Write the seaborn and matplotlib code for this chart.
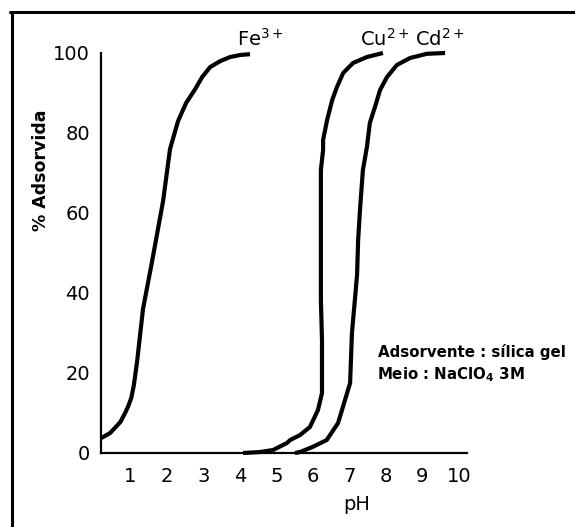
import matplotlib
matplotlib.use("Agg")
import matplotlib.pyplot as plt
from matplotlib.lines import Line2D
import seaborn as sns
import pandas as pd

# ---- data ----
fe_ph = [0.21, 0.45, 0.73, 0.86, 0.95, 1.03, 1.10, 1.19, 1.35, 1.60, 1.90, 2.09, 2.31,
         2.53, 2.78, 2.97, 3.19, 3.47, 3.74, 4.01, 4.28]
fe_ads = [3.75, 5.0, 7.75, 10.0, 11.8, 13.8, 17.0, 23.0, 36.0, 48.0, 63.0, 76.0, 83.0,
          87.5, 91.0, 94.0, 96.5, 98.0, 99.0, 99.5, 99.7]

cu_ph = [4.09, 4.56, 4.91, 5.29, 5.38, 5.65, 5.92, 6.14, 6.25, 6.25, 6.22, 6.22,
         6.22, 6.22, 6.28, 6.28, 6.39, 6.53, 6.66, 6.83, 7.10, 7.48, 7.92]
cu_ads = [0.0, 0.25, 0.75, 2.5, 3.25, 4.5, 6.5, 10.75, 15.0, 28.25, 38.25, 50.75,
          63.25, 70.75, 75.75, 78.25, 83.25, 88.25, 91.5, 95.0, 97.5, 99.0, 100.0]

cd_ph = [5.51, 5.65, 5.99, 6.38, 6.69, 6.88, 7.02, 7.07, 7.15, 7.21, 7.24, 7.29,
         7.34, 7.37, 7.48, 7.56, 7.70, 7.84, 8.03, 8.30, 8.66, 9.12, 9.62]
cd_ads = [0.0, 0.25, 1.5, 3.25, 7.5, 13.25, 17.5, 30.0, 38.25, 44.5, 53.25, 60.75,
          67.0, 70.75, 76.5, 82.5, 86.5, 90.75, 94.0, 97.0, 98.75, 99.8, 100.0]

ion_labels = ["Fe$^{3+}$", "Cu$^{2+}$", "Cd$^{2+}$"]
label_pos_ph = [3.93, 7.29, 8.80]
label_pos_ads = [100.8, 100.8, 100.8]

x_ticks = [1, 2, 3, 4, 5, 6, 7, 8, 9, 10]
y_ticks = [0, 20, 40, 60, 80, 100]
y_minor = [10, 30, 50, 70, 90]

x_label = "pH"
y_label = "% Adsorvida"
note_lines = ["Adsorvente : sílica gel", "Meio : NaClO$_4$ 3M"]

# ---- drawing ----
sns.set_style("white")
plt.rcParams["font.family"] = ["DejaVu Sans"]
plt.rcParams["mathtext.default"] = "regular"
plt.rcParams["text.color"] = "black"
plt.rcParams["axes.labelcolor"] = "black"

W, H = 575, 527
fig = plt.figure(figsize=(W / 100, H / 100), dpi=100)
ax = fig.add_axes([101 / W, 1 - 453 / H, 366 / W, 400 / H])

series = [(fe_ph, fe_ads), (cu_ph, cu_ads), (cd_ph, cd_ads)]
for xs, ys in series:
    df = pd.DataFrame({"pH": xs, "ads": ys})
    sns.lineplot(data=df, x="pH", y="ads", sort=False, estimator=None,
                 color="black", linewidth=3.0, ax=ax, clip_on=False,
                 solid_capstyle="butt", solid_joinstyle="round")

ax.set_xlim(0.2, 10.22)
ax.set_ylim(0, 100)

for s in ["top", "right"]:
    ax.spines[s].set_visible(False)
for s in ["left", "bottom"]:
    ax.spines[s].set_linewidth(1.6)
    ax.spines[s].set_color("black")

ax.set_xticks(x_ticks)
ax.set_xticklabels([str(t) for t in x_ticks])
ax.set_yticks(y_ticks)
ax.set_yticklabels([str(t) for t in y_ticks])
ax.set_yticks(y_minor, minor=True)
ax.tick_params(axis="both", which="both", direction="in", length=4, width=1.5,
               colors="black", labelsize=14)
ax.tick_params(axis="x", pad=10)
ax.tick_params(axis="y", pad=8)

ax.set_xlabel(x_label, fontsize=14, color="black")
ax.xaxis.label.set_va("center")
ax.xaxis.set_label_coords((357 - 101) / 366, (453 - 504) / 400)

ax.set_ylabel(y_label, fontsize=12.5, fontweight="bold", color="black")
ax.yaxis.label.set_va("center")
ax.yaxis.set_label_coords((41 - 101) / 366, (453 - 170) / 400)

for lab, px, py in zip(ion_labels, label_pos_ph, label_pos_ads):
    ax.text(px, py, lab, fontsize=14, ha="left", va="bottom", color="black")

ax.text(7.78, 25.3, note_lines[0], fontsize=10.8, fontweight="bold",
        ha="left", va="center", color="black")
ax.text(7.76, 19.5, note_lines[1], fontsize=10.8, fontweight="bold",
        ha="left", va="center", color="black")

# outer frame (left and top edges as in the reference)
fig.add_artist(Line2D([11.5 / W, 11.5 / W], [0, 1 - 12 / H], color="black",
                      linewidth=2.2, transform=fig.transFigure))
fig.add_artist(Line2D([10 / W, 1], [1 - 12 / H, 1 - 12 / H], color="black",
                      linewidth=2.2, transform=fig.transFigure))

fig.savefig("out.png", dpi=100, facecolor="white")
